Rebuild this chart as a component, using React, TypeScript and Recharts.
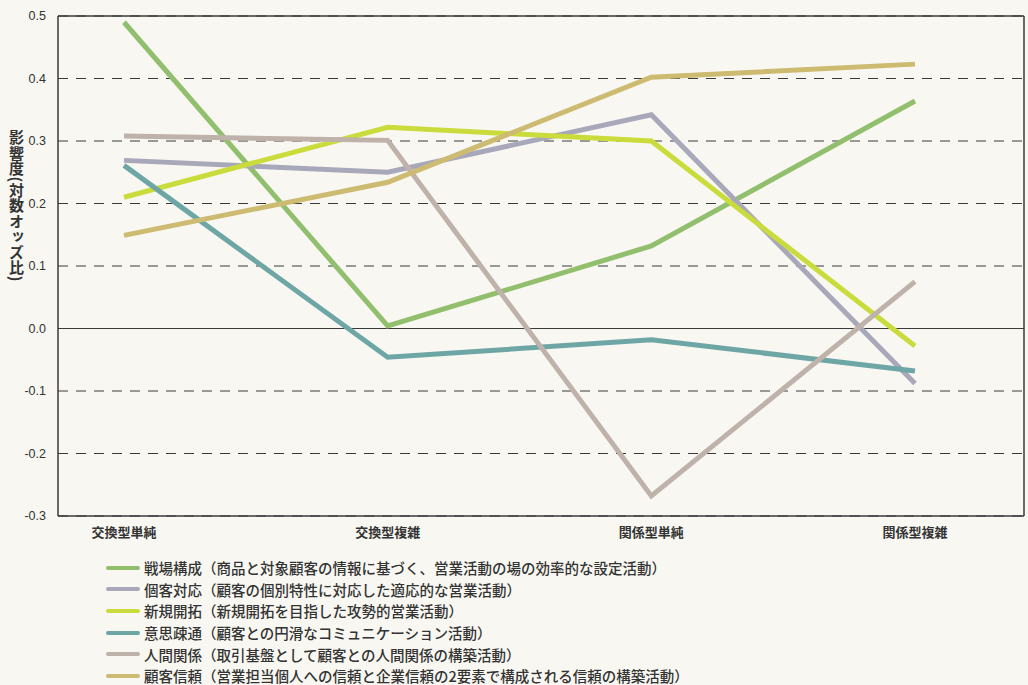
import { LineChart, Line, XAxis, YAxis, CartesianGrid, ReferenceLine } from "recharts";

const CATEGORIES = ["交換型単純", "交換型複雑", "関係型単純", "関係型複雑"];
const SERIES_NAMES = ["戦場構成", "個客対応", "新規開拓", "意思疎通", "人間関係", "顧客信頼"];
const SERIES_NOTES = [
  "（商品と対象顧客の情報に基づく、営業活動の場の効率的な設定活動）",
  "（顧客の個別特性に対応した適応的な営業活動）",
  "（新規開拓を目指した攻勢的営業活動）",
  "（顧客との円滑なコミュニケーション活動）",
  "（取引基盤として顧客との人間関係の構築活動）",
  "（営業担当個人への信頼と企業信頼の2要素で構成される信頼の構築活動）",
];
const SERIES_COLORS = ["#92bf6e", "#a9a8ba", "#c9dc3c", "#6ea6a6", "#bfb2ab", "#cdbb72"];

const senjo = [0.49, 0.004, 0.132, 0.364];
const kokyaku = [0.269, 0.25, 0.342, -0.088];
const shinki = [0.21, 0.322, 0.3, -0.028];
const ishi = [0.261, -0.046, -0.018, -0.068];
const ningen = [0.308, 0.301, -0.268, 0.075];
const shinrai = [0.149, 0.234, 0.402, 0.423];
const SERIES_VALUES = [senjo, kokyaku, shinki, ishi, ningen, shinrai];

const Y_TICKS = [-0.3, -0.2, -0.1, 0, 0.1, 0.2, 0.3, 0.4, 0.5];

const data = CATEGORIES.map((c, i) => {
  const row: Record<string, string | number> = { cat: c };
  SERIES_NAMES.forEach((n, j) => { row[n] = SERIES_VALUES[j][i]; });
  return row;
});

const AXIS = "#3a3a3a";
const CJK = "'Noto Sans CJK JP', 'Noto Sans', sans-serif";

export default function App() {
  return (
    <div style={{ position: "absolute", left: 0, top: 0, width: 1028, height: 685, background: "#f8f7f1", fontFamily: CJK }}>
      <div style={{
        position: "absolute", left: 6, top: 130, writingMode: "vertical-rl",
        fontSize: 15, fontWeight: 700, color: "#333", letterSpacing: 0.5,
      }}>
        影響度(対数オッズ比)
      </div>
      <LineChart width={1028} height={545} data={data} margin={{ top: 16, right: 0, left: 0, bottom: 0 }}>
        <CartesianGrid horizontal vertical={false} stroke={AXIS} strokeDasharray="10 8" strokeWidth={1} />
        <XAxis
          dataKey="cat"
          padding={{ left: 66, right: 109 }}
          height={29}
          axisLine={{ stroke: AXIS, strokeWidth: 1.5 }}
          tickLine={false}
          tick={{ fontSize: 13, fontWeight: 700, fill: "#333", fontFamily: CJK }}
          tickMargin={6}
        />
        <YAxis
          domain={[-0.3, 0.5]}
          ticks={Y_TICKS}
          width={58}
          axisLine={{ stroke: AXIS, strokeWidth: 1.5 }}
          tickLine={false}
          tickFormatter={(v: number) => v.toFixed(1)}
          tick={{ fontSize: 12.5, fill: "#333", fontFamily: "'Liberation Sans', Arial, sans-serif" }}
          tickMargin={6}
        />
        <YAxis yAxisId="r" orientation="right" width={4} domain={[-0.3, 0.5]} tick={false} tickLine={false} axisLine={{ stroke: AXIS, strokeWidth: 1.5 }} />
        <ReferenceLine y={0.5} stroke={AXIS} strokeWidth={1.5} />
        <ReferenceLine y={0} stroke={AXIS} strokeWidth={1.2} />
        {SERIES_NAMES.map((n, j) => (
          <Line
            key={n}
            dataKey={n}
            stroke={SERIES_COLORS[j]}
            strokeWidth={5}
            dot={false}
            activeDot={false}
            isAnimationActive={false}
          />
        ))}
      </LineChart>
      <div style={{ position: "absolute", left: 106, top: 557 }}>
        {SERIES_NAMES.map((n, j) => (
          <div key={n} style={{ display: "flex", alignItems: "center", height: 21.6, fontSize: 14.5, color: "#333", whiteSpace: "nowrap" }}>
            <span style={{ width: 34, height: 4, background: SERIES_COLORS[j], borderRadius: 2, marginRight: 4 }} />
            <span style={{ fontWeight: 500 }}>{n}{SERIES_NOTES[j]}</span>
          </div>
        ))}
      </div>
    </div>
  );
}
